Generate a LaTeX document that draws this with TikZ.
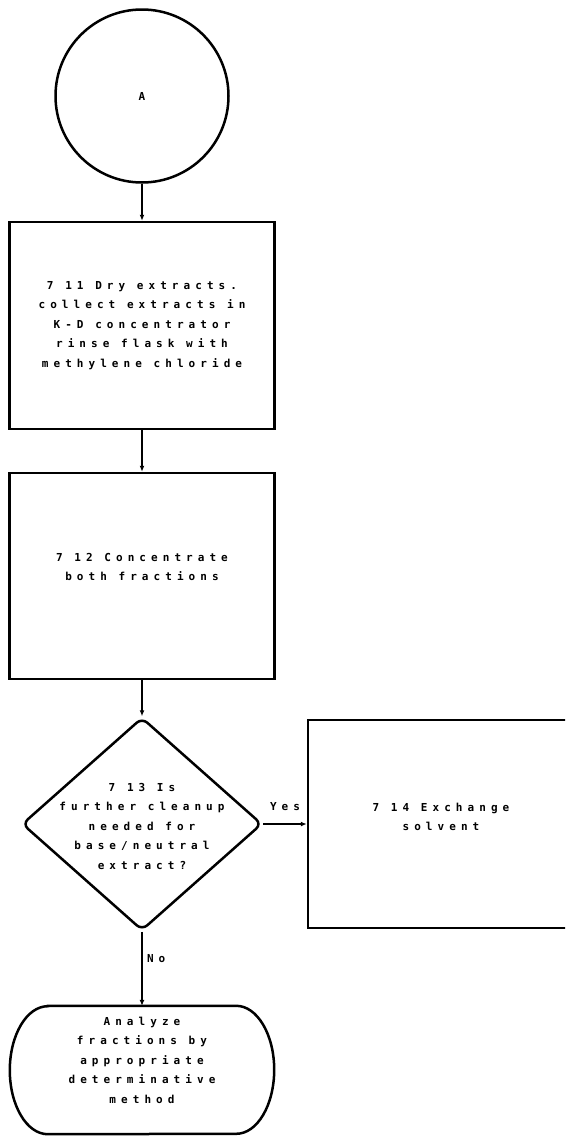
\documentclass[tikz,border=0pt]{standalone}
\usepackage{fontspec}
\newfontfamily\plotfont[LetterSpace=46]{DejaVu Sans Mono}
\usetikzlibrary{shapes.geometric,arrows.meta}
\begin{document}
\begin{tikzpicture}[x=1pt,y=-1pt,
  every node/.style={font=\plotfont\bfseries\fontsize{11}{19.5}\selectfont},
  outline/.style={draw, line width=2.5pt},
  flow/.style={line width=2pt, -{Latex[length=6pt,width=5pt]}},
  procbox/.style={outline, rectangle, minimum width=265pt, minimum height=207pt, align=center, inner sep=0pt},
  decision/.style={outline, diamond, minimum width=240pt, minimum height=213pt, rounded corners=7pt, inner sep=0pt},
  connector/.style={outline, circle, minimum size=173pt, inner sep=0pt},
  terminal/.style={rectangle, minimum width=264pt, minimum height=128pt, inner sep=0pt},
  txt/.style={align=center, inner sep=0pt},
  lbl/.style={inner sep=0pt}]

\useasboundingbox (0,0) rectangle (565,1138);
\clip (0,0) rectangle (565,1138);

% off-page connector
\node[connector] (A) at (142,96) {A};

% process steps
\node[procbox] (dry) at (142,325.5)
  {7 11 Dry extracts.\\collect extracts in\\K-D concentrator\\rinse flask with\\methylene chloride};

\node[procbox, minimum height=206pt] (conc) at (142,576) {};
\node[txt] (concT) at (142,567) {7 12 Concentrate\\both fractions};

% decision
\node[decision] (dec) at (142,824) {};
\node[txt] (decT) at (142,826) {7 13 Is\\further cleanup\\needed for\\base/neutral\\extract?};

% side branch, runs off the right edge
\node[procbox, minimum width=266pt, minimum height=208pt] (exch) at (441,824) {};
\node[txt] (exchT) at (441,817) {7 14 Exchange\\solvent};

% terminal with elliptic ends
\node[terminal] (end) at (142,1070) {};
\draw[line width=2.5pt]
  ([xshift=38pt]end.north west) -- ([xshift=-38pt]end.north east)
  arc[start angle=90, end angle=-90, x radius=38pt, y radius=64pt]
  -- ([xshift=38pt]end.south west)
  arc[start angle=270, end angle=90, x radius=38pt, y radius=64pt]
  -- cycle;
\node[txt] (endT) at (142,1060) {Analyze\\fractions by\\appropriate\\determinative\\method};

% connectors
\draw[flow] (A.south) -- (dry.north);
\draw[flow] (dry.south) -- (conc.north);
\draw[flow] (conc.south) -- (dec.north);
\draw[flow] (dec.east) -- node[lbl, above=12pt] {Yes} (exch.west);
\draw[flow] (dec.south) -- node[lbl, pos=0.36, right=4pt] {No} (end.north);
\end{tikzpicture}
\end{document}
